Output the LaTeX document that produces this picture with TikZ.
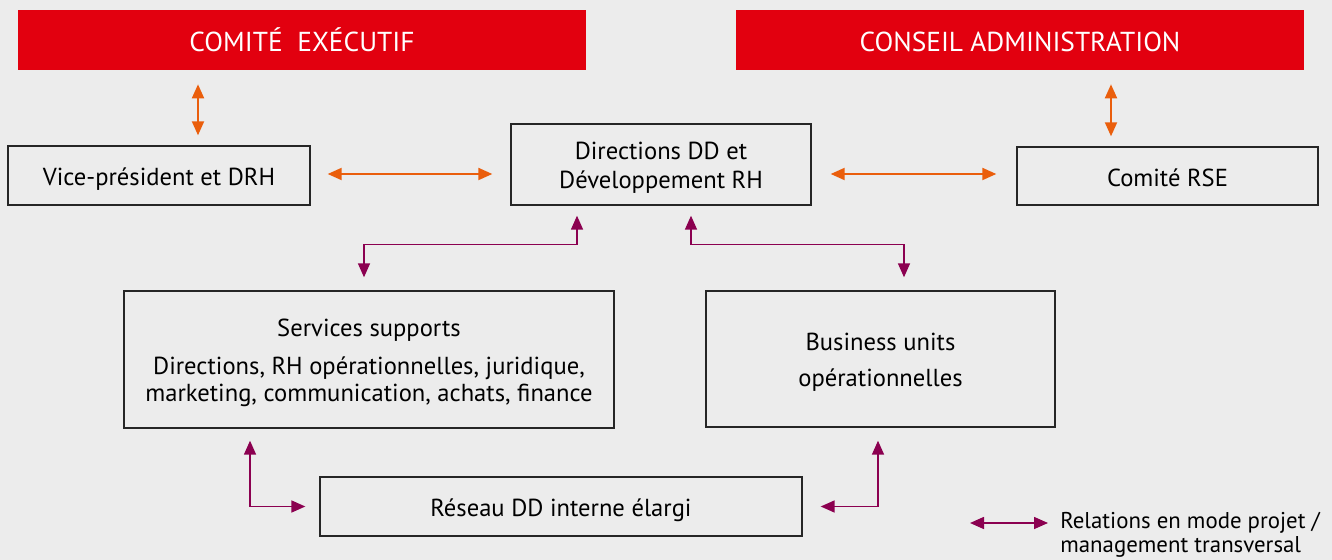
\documentclass[tikz,border=0pt]{standalone}
\usepackage{fontspec}
\setmainfont{PT Sans}
\usetikzlibrary{arrows.meta}
\definecolor{RSEred}{RGB}{226,0,15}
\definecolor{RSEorange}{RGB}{234,94,12}
\definecolor{RSEpurple}{RGB}{139,0,80}
\definecolor{RSEgrey}{RGB}{236,236,236}
\newcommand{\RSElines}[1]{\begin{tabular}{@{}c@{}}#1\end{tabular}}
\tikzstyle{RSEhead}=[fill=RSEred, text=white, inner sep=0pt, minimum width=11.36cm, minimum height=1.2cm, text height=0.46cm, text depth=0cm, font=\fontsize{15.6}{17}\selectfont]
\tikzstyle{RSEbox}=[draw=black!85, line width=0.8pt, inner sep=0pt, text height=0.48cm, text depth=0.06cm, font=\fontsize{14}{15.3}\selectfont]
\tikzstyle{RSEorangearrow}=[draw=RSEorange, line width=1.1pt, {Triangle[length=2.8mm,width=2.4mm]}-{Triangle[length=2.8mm,width=2.4mm]}]
\tikzstyle{RSEpurplearrow}=[draw=RSEpurple, line width=0.9pt, {Triangle[length=2.8mm,width=2.4mm]}-{Triangle[length=2.8mm,width=2.4mm]}]

\begin{document}
\begin{tikzpicture}[x=0.02cm, y=-0.02cm]
    \path [fill=RSEgrey, use as bounding box] (0,0) rectangle (1332,560);
    % haut
    \node [RSEhead] (comex) at (302,40) {COMITÉ\ \ EXÉCUTIF};
    \node [RSEhead] (conseil) at (1020,40) {CONSEIL ADMINISTRATION};
    \node [RSEbox, minimum width=6.04cm, minimum height=1.18cm] (vp) at (159,175.5) {Vice-président et DRH};
    \node [RSEbox, minimum width=6cm, minimum height=1.62cm] (dirdd) at (661,164.5) {\RSElines{Directions DD et\\[1.7pt] Développement RH}};
    \node [RSEbox, minimum width=6.02cm, minimum height=1.16cm] (rse) at (1167.5,176) {Comité RSE};
    % milieu et bas
    \node [RSEbox, minimum width=9.8cm, minimum height=2.74cm] (supports) at (369,359.5) {\RSElines{Services supports\\[6.2pt] Directions, RH opérationnelles, juridique,\\ marketing, communication, achats, finance}};
    \node [RSEbox, minimum width=6.98cm, minimum height=2.72cm] (bu) at (880.5,359) {\RSElines{Business units\\[5.7pt] opérationnelles}};
    \node [RSEbox, minimum width=9.64cm, minimum height=1.18cm] (reseau) at (561,506.5) {Réseau DD interne élargi};
    % fleches oranges
    \draw [RSEorangearrow, shorten <=0.28cm, shorten >=0.2cm] ([xshift=-2.08cm]comex.south) -- ([xshift=0.78cm]vp.north);
    \draw [RSEorangearrow, shorten <=0.28cm, shorten >=0.2cm] ([xshift=1.82cm]conseil.south) -- ([xshift=-1.13cm]rse.north);
    \draw [RSEorangearrow, shorten <=0.34cm, shorten >=0.36cm] ([yshift=0.03cm]vp.east) -- ([yshift=0.03cm]vp.east -| dirdd.west);
    \draw [RSEorangearrow, shorten <=0.38cm, shorten >=0.4cm] ([yshift=0.04cm]rse.west -| dirdd.east) -- ([yshift=0.04cm]rse.west);
    % fleches violettes
    \draw [RSEpurplearrow, shorten <=0.26cm, shorten >=0.2cm] ([xshift=-0.1cm]supports.north) -- ++(0,-46) -| ([xshift=-1.68cm]dirdd.south);
    \draw [RSEpurplearrow, shorten <=0.2cm, shorten >=0.26cm] ([xshift=0.6cm]dirdd.south) -- ++(0,39) -| ([xshift=0.47cm]bu.north);
    \draw [RSEpurplearrow, shorten <=0.24cm, shorten >=0.28cm] ([xshift=-2.38cm]supports.south) |- (reseau.west);
    \draw [RSEpurplearrow, shorten <=0.26cm, shorten >=0.36cm] ([xshift=-0.05cm]bu.south) |- (reseau.east);
    % legende
    \coordinate (legA) at (970,523);
    \coordinate (legB) at (1048,523);
    \draw [RSEpurplearrow] (legA) -- (legB);
    \node [anchor=west, align=left, inner sep=0pt, font=\fontsize{13}{13.4}\selectfont] (legtext) at (1060,535) {Relations en mode projet /\\ management transversal};
\end{tikzpicture}
\end{document}
